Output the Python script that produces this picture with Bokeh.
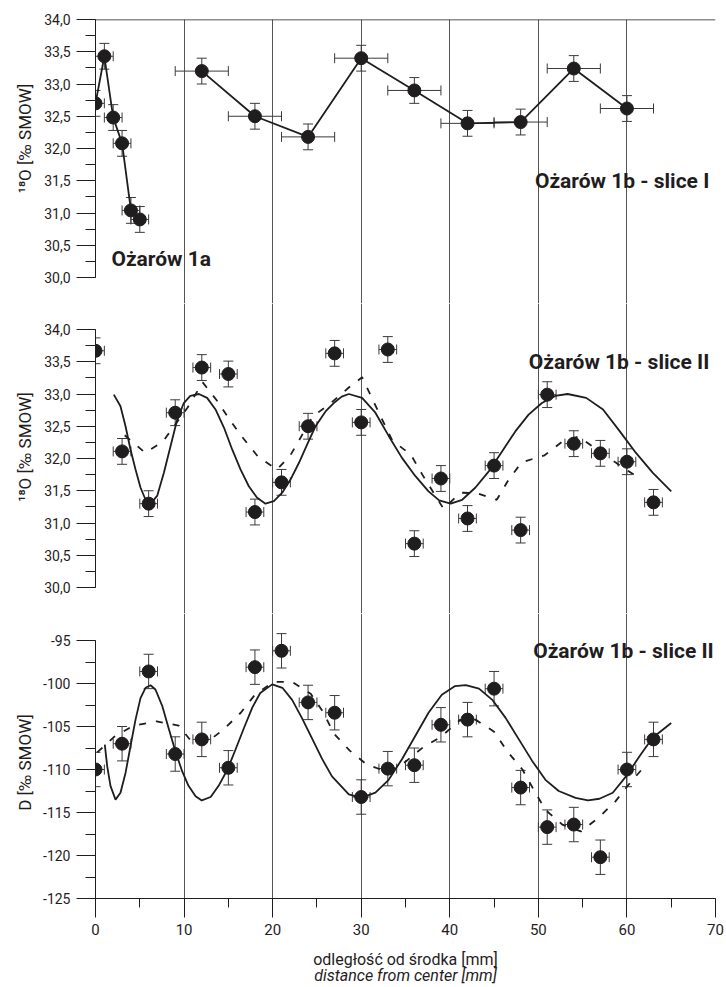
import math
from bokeh.plotting import figure
from bokeh.models import (Range1d, SingleIntervalTicker, FixedTicker, CustomJSTickFormatter,
                          ColumnDataSource, Whisker, TeeHead, Label, Span)
from bokeh.core.properties import value
from bokeh.layouts import column, row
from bokeh.embed import file_html
from bokeh.resources import INLINE

FONT = "Roboto"
INK = "#1f1d1e"

# ---------------- data ----------------
# Ożarów 1a (delta 18O)
a1_x = [0, 1, 2, 3, 4, 5]
a1_y = [32.70, 33.43, 32.48, 32.08, 31.04, 30.90]
a1_xerr = 1.0
a1_yerr = 0.2

# Ożarów 1b - slice I (delta 18O)
s1_x = [12, 18, 24, 30, 36, 42, 48, 54, 60]
s1_y = [33.20, 32.50, 32.18, 33.40, 32.90, 32.39, 32.41, 33.24, 32.62]
s1_xerr = 3.0
s1_yerr = 0.2

# Ożarów 1b - slice II
s2_x = [0, 3, 6, 9, 12, 15, 18, 21, 24, 27, 30, 33, 36, 39, 42, 45, 48, 51, 54, 57, 60, 63]
s2_o18 = [33.67, 32.11, 31.30, 32.71, 33.41, 33.31, 31.17, 31.63, 32.50, 33.63, 32.56,
          33.69, 30.68, 31.69, 31.07, 31.89, 30.89, 32.99, 32.23, 32.08, 31.95, 31.32]
s2_dD = [-110.0, -107.0, -98.6, -108.2, -106.5, -109.8, -98.1, -96.2, -102.2, -103.4, -113.2,
         -109.9, -109.5, -104.8, -104.2, -100.6, -112.1, -116.7, -116.4, -120.2, -110.0, -106.5]
s2_xerr = 1.0
s2_o18_err = 0.2
s2_dD_err = 2.0

# fitted (solid) curve, delta 18O slice II
fit18_x = [2.07, 2.82, 3.39, 3.95, 4.52, 5.08, 5.65, 6.21, 6.96, 7.72, 8.47, 9.22, 9.97, 10.7,
           11.67, 12.6, 13.55, 14.5, 15.43, 16.37, 17.31, 18.25, 19.19, 20.14, 21.08, 22.0,
           22.96, 23.9, 24.84, 25.97, 26.9, 27.8, 28.6, 30.1, 31.6, 33.1, 34.6, 36.1, 37.6,
           38.8, 40.1, 41.4, 42.9, 44.4, 45.9, 47.4, 48.9, 50.4, 51.9, 53.3, 55.4, 57.3, 59.2,
           61.0, 62.9, 65.0]
fit18_y = [32.99, 32.81, 32.50, 32.14, 31.83, 31.55, 31.36, 31.30, 31.42, 31.78, 32.19, 32.60,
           32.86, 32.97, 33.00, 32.94, 32.76, 32.48, 32.14, 31.83, 31.57, 31.39, 31.30, 31.34,
           31.47, 31.67, 31.93, 32.22, 32.50, 32.73, 32.86, 32.96, 33.00, 32.94, 32.71, 32.35,
           32.01, 31.73, 31.49, 31.35, 31.30, 31.36, 31.55, 31.80, 32.11, 32.42, 32.68, 32.86,
           32.97, 33.00, 32.94, 32.76, 32.42, 32.09, 31.78, 31.49]

# dashed curve, delta 18O slice II
dash18_x = [3.3, 5.6, 7.6, 10.4, 12.1, 13.7, 15.2, 16.7, 18.4, 20.5, 22.0, 23.1, 24.5, 26.4,
            28.6, 30.1, 31.3, 33.5, 35.6, 36.9, 39.3, 41.2, 43.1, 45.3, 46.6, 48.1, 50.7,
            52.7, 54.5, 58.7, 61.1]
dash18_y = [32.36, 32.09, 32.26, 32.79, 33.18, 32.90, 32.59, 32.31, 32.02, 31.83, 32.05, 32.31,
            32.65, 32.84, 33.10, 33.26, 32.91, 32.28, 32.06, 31.75, 31.22, 31.47, 31.46, 31.36,
            31.66, 31.94, 32.05, 32.26, 32.34, 31.94, 31.72]

# fitted (solid) curve, delta D slice II
fitD_x = [1.05, 1.32, 1.69, 2.26, 2.82, 3.39, 3.95, 4.52, 5.08, 5.65, 6.21, 6.77, 7.53, 8.28,
          9.03, 9.78, 10.5, 11.3, 12.0, 13.0, 13.9, 14.9, 15.8, 16.75, 17.7, 18.6, 19.95, 21.1,
          22.2, 23.3, 24.5, 25.6, 26.7, 28.6, 30.0, 31.6, 33.1, 34.6, 36.1, 37.6, 39.1, 40.6,
          41.8, 43.3, 44.8, 46.3, 47.8, 49.3, 50.8, 52.3, 54.2, 55.6, 56.9, 58.4, 59.9, 61.4,
          62.9, 65.0]
fitD_y = [-107.1, -109.6, -111.9, -113.5, -112.7, -110.4, -107.3, -104.2, -101.7, -100.5,
          -100.2, -100.7, -102.6, -105.3, -107.9, -110.2, -111.9, -113.1, -113.6, -113.2,
          -111.9, -110.0, -107.7, -105.2, -102.8, -101.1, -100.1, -100.5, -101.9, -104.0,
          -106.5, -108.8, -110.8, -112.9, -113.3, -112.7, -111.2, -108.8, -106.1, -103.4,
          -101.3, -100.3, -100.2, -100.6, -101.9, -104.0, -106.5, -109.0, -111.2, -112.5,
          -113.3, -113.6, -113.4, -112.7, -110.8, -108.5, -106.3, -104.6]

# dashed curve, delta D slice II
dashD_x = [0.2, 2.1, 4.3, 6.9, 9.4, 10.8, 12.5, 14.5, 16.4, 18.0, 20.1, 22.2, 24.3, 25.7, 26.9,
           28.7, 30.6, 33.0, 35.0, 37.0, 39.0, 41.1, 42.9, 45.0, 46.5, 48.2, 49.5, 50.8, 52.7,
           54.8, 56.8, 58.7, 60.4, 62.1]
dashD_y = [-108.0, -106.2, -104.9, -104.4, -104.9, -106.7, -106.9, -105.3, -103.4, -101.3,
           -99.8, -99.8, -101.2, -103.3, -105.8, -107.8, -109.4, -110.3, -109.1, -107.4,
           -106.2, -104.3, -104.2, -105.6, -107.9, -110.0, -112.4, -114.7, -116.4, -117.2,
           -115.6, -113.7, -111.5, -109.5]

x_ticks_grid = [10, 20, 30, 40, 50, 60, 70]
y_titles = ["¹⁸O [‰ SMOW]", "¹⁸O [‰ SMOW]", "D [‰ SMOW]"]
x_titles = ["odległość od środka [mm]", "distance from center [mm]"]

# ---------------- layout constants (pixels) ----------------
TW = 40            # width of the strip holding the y titles
MAIN_W = 684
H1, H2, H3, HX = 303, 310, 330, 41
TOTAL_H = H1 + H2 + H3 + HX

xr = Range1d(0, 70)


def make_fig(height, yr, top=0, bottom=0):
    p = figure(width=MAIN_W, height=height, x_range=xr, y_range=yr, output_backend="svg",
               toolbar_location=None, min_border_left=55, min_border_right=9,
               min_border_top=top, min_border_bottom=bottom, outline_line_color=None,
               background_fill_color="white", border_fill_color="white")
    p.xgrid.ticker = FixedTicker(ticks=x_ticks_grid)
    p.xgrid.grid_line_color = "#555555"
    p.xgrid.grid_line_width = 1
    p.ygrid.visible = False
    return p


def style_yaxis(p, lo, hi, interval, fmt_code):
    ax = p.yaxis[0]
    ax.bounds = (lo, hi)
    ax.ticker = SingleIntervalTicker(interval=interval, num_minor_ticks=2)
    ax.formatter = CustomJSTickFormatter(code=fmt_code)
    ax.major_tick_out = 19
    ax.major_tick_in = 0
    ax.minor_tick_out = 10
    ax.minor_tick_in = 0
    ax.axis_line_color = INK
    ax.major_tick_line_color = INK
    ax.minor_tick_line_color = INK
    ax.major_label_standoff = 6
    ax.major_label_text_font = FONT
    ax.major_label_text_font_size = "14px"
    ax.major_label_text_color = INK


def add_errors(p, xs, ys, xerr, yerr):
    src = ColumnDataSource(dict(
        x=xs, y=ys,
        xl=[v - xerr for v in xs], xu=[v + xerr for v in xs],
        yl=[v - yerr for v in ys], yu=[v + yerr for v in ys]))
    p.add_layout(Whisker(source=src, base="x", lower="yl", upper="yu", dimension="height",
                         line_color="#3a3a3a", line_width=1,
                         lower_head=TeeHead(size=10, line_color="#3a3a3a", line_width=1),
                         upper_head=TeeHead(size=10, line_color="#3a3a3a", line_width=1)))
    p.add_layout(Whisker(source=src, base="y", lower="xl", upper="xu", dimension="width",
                         line_color="#3a3a3a", line_width=1,
                         lower_head=TeeHead(size=10, line_color="#3a3a3a", line_width=1),
                         upper_head=TeeHead(size=10, line_color="#3a3a3a", line_width=1)))
    return src


def add_points(p, src):
    p.scatter("x", "y", source=src, size=13, fill_color=INK, line_color=INK)


def panel_label(p, x, y, text, align="right"):
    p.add_layout(Label(x=x, y=y, text=text, text_align=align, text_baseline="alphabetic",
                       text_font=FONT, text_font_style="bold", text_font_size="21px",
                       text_color=INK))


FMT1 = "return tick.toFixed(1).replace('.', ',');"
FMT0 = "return tick.toFixed(0);"

# ---------------- panel 1 ----------------
p1 = make_fig(H1, Range1d(34.0 - 284 / 64.5, 34.0), top=19)
p1.xaxis.visible = False
style_yaxis(p1, 30, 34, 0.5, FMT1)
p1.add_layout(Span(location=34.0, dimension="width", line_color=INK, line_width=1.5))
src_a1 = add_errors(p1, a1_x, a1_y, a1_xerr, a1_yerr)
src_s1 = add_errors(p1, s1_x, s1_y, s1_xerr, s1_yerr)
p1.line(a1_x, a1_y, line_color=INK, line_width=1.8)
p1.line(s1_x, s1_y, line_color=INK, line_width=1.8)
add_points(p1, src_a1)
add_points(p1, src_s1)
panel_label(p1, 1.8, 30.28, "Ożarów 1a", align="left")
panel_label(p1, 69.3, 31.49, "Ożarów 1b - slice I")

# ---------------- panel 2 ----------------
top2 = 34.0 + 26 / 64.5
p2 = make_fig(H2, Range1d(top2 - H2 / 64.5, top2))
p2.xaxis.visible = False
style_yaxis(p2, 30, 34, 0.5, FMT1)
p2.line(fit18_x, fit18_y, line_color=INK, line_width=1.8)
p2.line(dash18_x, dash18_y, line_color=INK, line_width=1.8, line_dash="7 10")
src_s2a = add_errors(p2, s2_x, s2_o18, s2_xerr, s2_o18_err)
add_points(p2, src_s2a)
panel_label(p2, 69.3, 33.49, "Ożarów 1b - slice II")

# ---------------- panel 3 ----------------
p3 = make_fig(H3, Range1d(-125.0, -125.0 + 285 / 8.6), bottom=H3 - 285)
style_yaxis(p3, -125, -95, 5, FMT0)
xa = p3.xaxis[0]
xa.bounds = (0, 70)
xa.ticker = SingleIntervalTicker(interval=10, num_minor_ticks=2)
xa.major_tick_out = 19
xa.major_tick_in = 0
xa.minor_tick_out = 9
xa.minor_tick_in = 0
xa.axis_line_color = INK
xa.major_tick_line_color = INK
xa.minor_tick_line_color = INK
xa.major_label_standoff = 6
xa.major_label_text_font = FONT
xa.major_label_text_font_size = "15px"
xa.major_label_text_color = INK
p3.line(fitD_x, fitD_y, line_color=INK, line_width=1.8)
p3.line(dashD_x, dashD_y, line_color=INK, line_width=1.8, line_dash="7 10")
src_s2d = add_errors(p3, s2_x, s2_dD, s2_xerr, s2_dD_err)
add_points(p3, src_s2d)
panel_label(p3, 69.8, -96.2, "Ożarów 1b - slice II")

# ---------------- x-axis title strip (two lines: Polish / English italic) ----------------
px = figure(width=MAIN_W, height=HX, x_range=xr, y_range=Range1d(0, HX), output_backend="svg",
            toolbar_location=None, min_border_left=55, min_border_right=9, min_border_top=0,
            min_border_bottom=0, outline_line_color=None, x_axis_location=None,
            y_axis_location=None, border_fill_color="white")
px.grid.visible = False
px.text(x=[35], y=[HX - 16], text=[x_titles[0]], text_align="center",
        text_baseline="alphabetic", text_font=value(FONT), text_font_size="16px",
        text_color=INK)
px.text(x=[35], y=[HX - 32], text=[x_titles[1]], text_align="center",
        text_baseline="alphabetic", text_font=value(FONT), text_font_size="16px",
        text_font_style="italic", text_color=INK)

# ---------------- y-axis title strip ----------------
pt = figure(width=TW, height=TOTAL_H, x_range=Range1d(0, TW), y_range=Range1d(0, TOTAL_H),
            output_backend="svg", toolbar_location=None, min_border=0,
            outline_line_color=None, x_axis_location=None, y_axis_location=None,
            border_fill_color="white")
pt.grid.visible = False
# centres (pixels from the top of the strip) of the three rotated titles
yt_centres = [138, 446.5, 762]
pt.text(x=[24, 24, 24], y=[TOTAL_H - c for c in yt_centres], text=y_titles,
        angle=math.pi / 2, text_align="center", text_baseline="middle",
        text_font=value(FONT), text_font_size="17px", text_color=INK)

layout = row(pt, column(p1, p2, p3, px, spacing=0), spacing=0)
open("out.html", "w").write(file_html(layout, INLINE))
